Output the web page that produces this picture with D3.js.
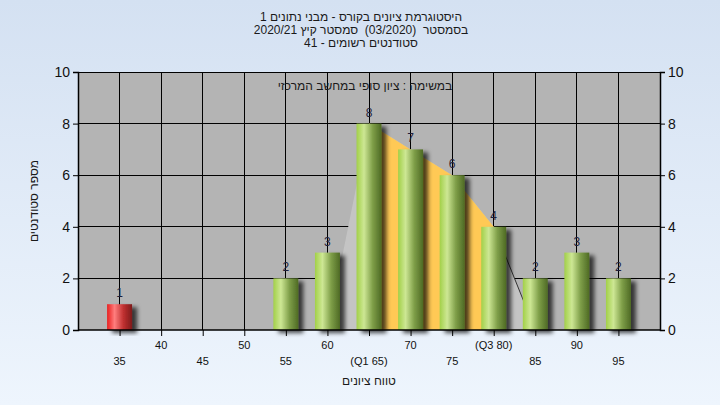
<!DOCTYPE html>
<html>
<head>
<meta charset="utf-8">
<script src="https://cdn.jsdelivr.net/npm/d3@7/dist/d3.min.js"></script>
<style>
  html, body { margin: 0; padding: 0; }
  body { width: 720px; height: 405px; overflow: hidden; }
  text { font-family: "Liberation Sans", Arial, sans-serif; }
</style>
</head>
<body>
<svg id="chart" width="720" height="405"></svg>
<script>
// ---- data ----
const categories = ["35","40","45","50","55","60","65","70","75","80","85","90","95"];
const tickLabels = ["35","40","45","50","55","60","(Q1 65)","70","75","(Q3 80)","85","90","95"];
const counts = [1,0,0,0,2,3,8,7,6,4,2,3,2];
const yTicks = [0,2,4,6,8,10];
const q1Cat = "65";
const q3Cat = "80";
const passMark = 55;
const titleLines = [
  "היסטוגרמת ציונים בקורס - מבני נתונים 1",
  "בסמסטר  (03/2020)  סמסטר קיץ 2020/21",
  "סטודנטים רשומים - 41"
];
const innerTitle = "במשימה : ציון סופי במחשב המרכזי";
const xTitle = "טווח ציונים";
const yTitle = "מספר סטודנטים";

// ---- layout ----
const W = 720, H = 405;
const plot = {left: 78, right: 660, top: 72, bottom: 330};
const svg = d3.select("#chart");
const defs = svg.append("defs");

const bg = defs.append("linearGradient").attr("id","bg").attr("x1",0).attr("y1",0).attr("x2",0).attr("y2",1);
bg.append("stop").attr("offset","0%").attr("stop-color","#D4E1F2");
bg.append("stop").attr("offset","100%").attr("stop-color","#EEF5FD");

function barGrad(id, c0, c1, c2, c3) {
  const g = defs.append("linearGradient").attr("id", id).attr("x1",0).attr("y1",0).attr("x2",1).attr("y2",0);
  g.append("stop").attr("offset","0%").attr("stop-color", c0);
  g.append("stop").attr("offset","30%").attr("stop-color", c1);
  g.append("stop").attr("offset","65%").attr("stop-color", c2);
  g.append("stop").attr("offset","100%").attr("stop-color", c3);
}
barGrad("gGreen", "#A2D048", "#CDE794", "#7E9E48", "#4E6A24");
barGrad("gRed", "#E81E1E", "#FF7E7E", "#C03030", "#7E1A1A");

const shadow = defs.append("filter").attr("id","shadow").attr("x","-20%").attr("y","-10%").attr("width","160%").attr("height","130%");
shadow.append("feDropShadow").attr("dx",5).attr("dy",3).attr("stdDeviation",2)
  .attr("flood-color","#000").attr("flood-opacity",0.7);

svg.append("rect").attr("width",W).attr("height",H).attr("fill","url(#bg)");

const x = d3.scalePoint().domain(categories).range([plot.left, plot.right]).padding(1);
const y = d3.scaleLinear().domain([0,10]).range([plot.bottom, plot.top]);
const bw = x.step() * 0.6;

// plot background
svg.append("rect").attr("x",plot.left).attr("y",plot.top)
  .attr("width",plot.right-plot.left).attr("height",plot.bottom-plot.top).attr("fill","#B4B4B4");

// grid
svg.append("g").selectAll("line.h").data(yTicks.filter(d=>d>0)).join("line")
  .attr("x1",plot.left).attr("x2",plot.right).attr("y1",d=>y(d)).attr("y2",d=>y(d))
  .attr("stroke","#000").attr("stroke-width",1).attr("shape-rendering","crispEdges");
svg.append("g").selectAll("line.v").data(categories).join("line")
  .attr("x1",d=>x(d)).attr("x2",d=>x(d)).attr("y1",plot.top).attr("y2",plot.bottom)
  .attr("stroke","#000").attr("stroke-width",1).attr("shape-rendering","crispEdges");

// IQR-related areas
const i1 = categories.indexOf(q1Cat), i3 = categories.indexOf(q3Cat);
const greyPts = [];
greyPts.push([categories[i1-1], 0]);
for (let i=i1;i<=i3;i++) greyPts.push([categories[i], counts[i]]);
greyPts.push([categories[i3+1], 0]);
const lineGen = d3.line().x(d=>x(d[0])).y(d=>y(d[1]));
svg.append("path").attr("d", lineGen(greyPts)+"Z").attr("fill","#C4C4C4");
svg.append("path").attr("d", lineGen(greyPts.slice(-2))).attr("fill","none")
  .attr("stroke","#333").attr("stroke-width",1);

const iqr = [];
for (let i=i1;i<=i3;i++) iqr.push([categories[i], counts[i]]);
const area = d3.area().x(d=>x(d[0])).y0(y(0)).y1(d=>y(d[1]));
svg.append("path").attr("d", area(iqr)).attr("fill","#FFC955");

// bars
const barData = categories.map((c,i)=>({c, v: counts[i]})).filter(d=>d.v>0);
svg.append("g").selectAll("rect").data(barData).join("rect")
  .attr("x", d=>x(d.c)-bw/2).attr("width", bw)
  .attr("y", d=>y(d.v)).attr("height", d=>y(0)-y(d.v))
  .attr("fill", d=> +d.c < passMark ? "url(#gRed)" : "url(#gGreen)")
  .attr("filter","url(#shadow)");

// value labels
svg.append("g").selectAll("text").data(barData).join("text")
  .attr("x", d=>x(d.c)).attr("y", d=>y(d.v)-7)
  .attr("text-anchor","middle").attr("font-size",12).attr("fill","#1E1E3A")
  .text(d=>d.v);

// axes
const yl = d3.axisLeft(y).tickValues(yTicks).tickSize(5).tickPadding(3);
const yr = d3.axisRight(y).tickValues(yTicks).tickSize(5).tickPadding(3);
const gL = svg.append("g").attr("transform",`translate(${plot.left},0)`).call(yl);
const gR = svg.append("g").attr("transform",`translate(${plot.right},0)`).call(yr);
[gL,gR].forEach(g=>{
  g.select(".domain").attr("stroke","#000").attr("stroke-width",1.5);
  g.selectAll(".tick line").attr("stroke","#000");
  g.selectAll(".tick text").attr("font-size",14).attr("fill","#111")
    .attr("font-family","Liberation Sans, Arial, sans-serif");
});

const xa = d3.axisBottom(x).tickSize(6).tickFormat(()=> "");
const gX = svg.append("g").attr("transform",`translate(0,${plot.bottom})`).call(xa);
gX.select(".domain").remove();
gX.selectAll(".tick line").attr("stroke","#000");
svg.append("line").attr("x1",plot.left).attr("x2",plot.right)
  .attr("y1",plot.bottom).attr("y2",plot.bottom).attr("stroke","#000").attr("stroke-width",1.5);

svg.append("g").selectAll("text").data(categories).join("text")
  .attr("x", d=>x(d))
  .attr("y", (d,i)=> i%2===0 ? 365 : 349)
  .attr("text-anchor","middle").attr("font-size",11).attr("fill","#111")
  .text((d,i)=>tickLabels[i]);

// titles
svg.append("g").selectAll("text").data(titleLines).join("text")
  .attr("x", 361).attr("y",(d,i)=>21+i*13)
  .attr("text-anchor","middle").attr("direction","rtl").attr("unicode-bidi","plaintext")
  .attr("font-size",12).attr("fill","#1a1a1a")
  .style("direction","rtl").style("white-space","pre")
  .text(d=>d);

svg.append("text").attr("x",365).attr("y",90).attr("text-anchor","middle")
  .style("direction","rtl").attr("font-size",12).attr("fill","#1a1a1a").text(innerTitle);

svg.append("text").attr("x",369).attr("y",385).attr("text-anchor","middle")
  .style("direction","rtl").attr("font-size",12).attr("fill","#1a1a1a").text(xTitle);

svg.append("text").attr("transform","translate(38,201) rotate(-90)").attr("text-anchor","middle")
  .style("direction","rtl").attr("font-size",12).attr("fill","#1a1a1a").text(yTitle);
</script>
</body>
</html>
